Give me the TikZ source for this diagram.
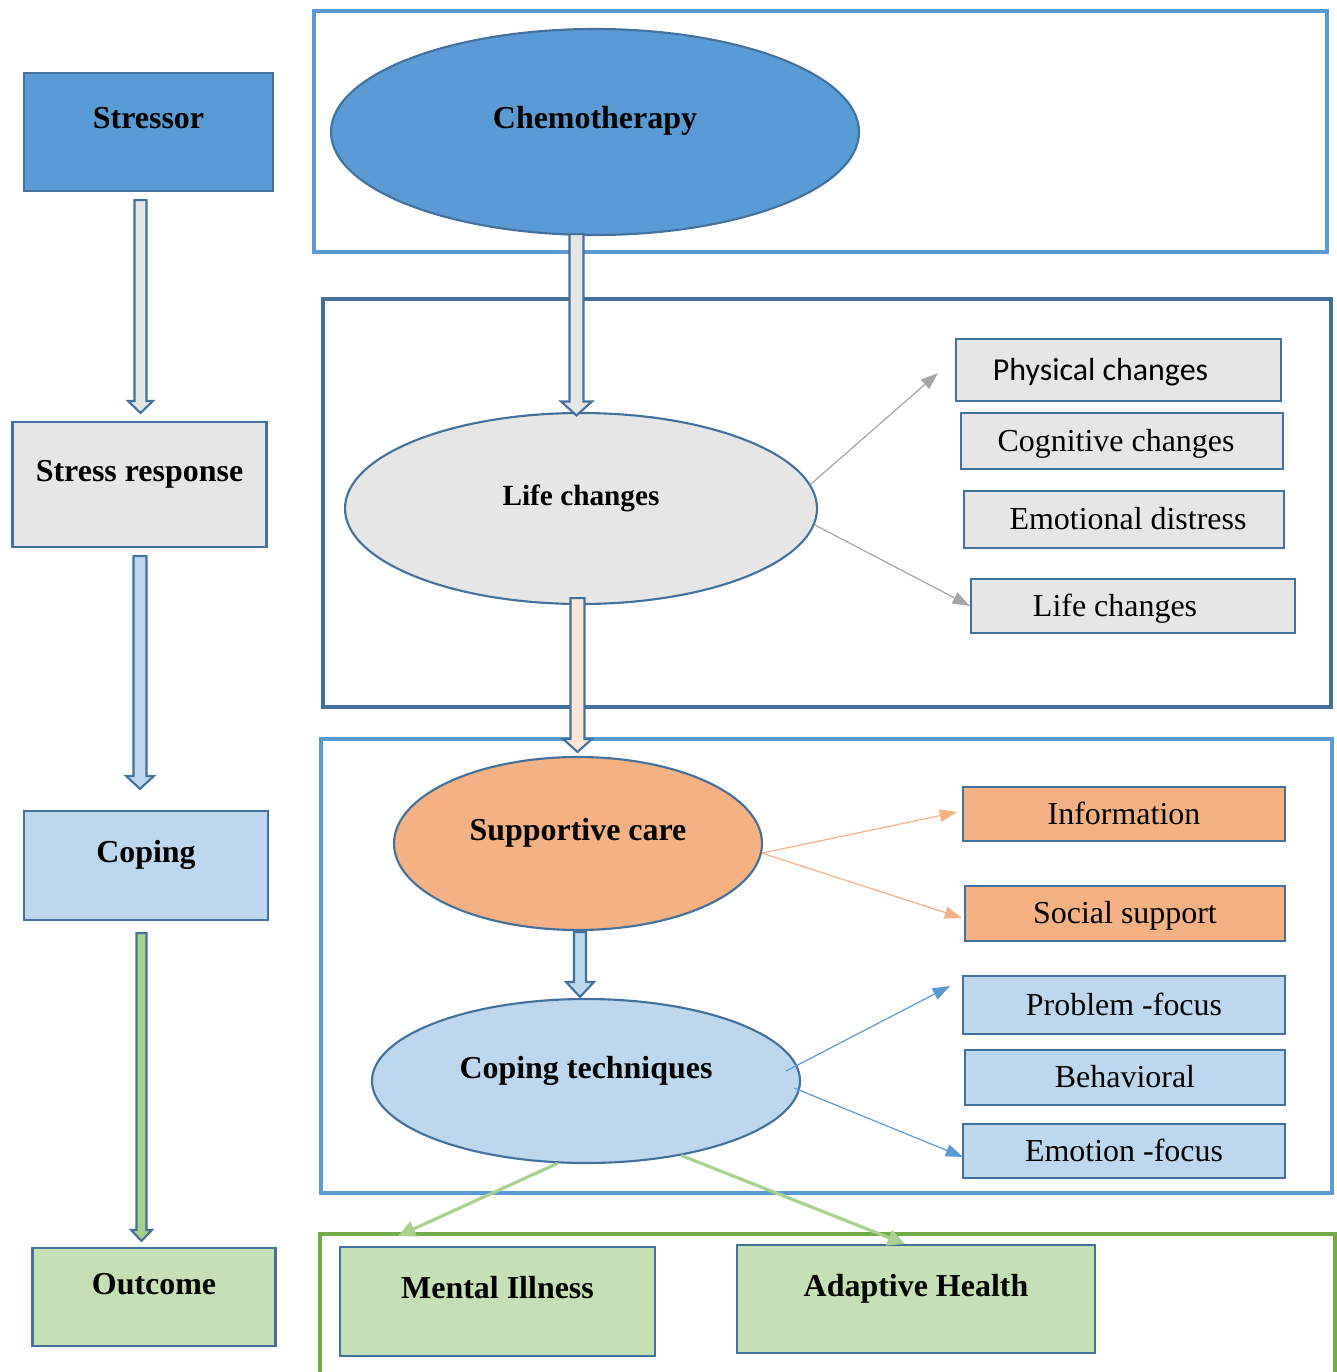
\documentclass[tikz,border=0pt]{standalone}
\usepackage{fontspec}
\setmainfont{Liberation Serif}
\newfontfamily\calibri{Carlito}
\usepackage{xcolor}
\usetikzlibrary{arrows.meta, shapes.geometric, calc}

\definecolor{linkblue}{HTML}{41719C}
\definecolor{midblue}{HTML}{5B9BD5}
\definecolor{paleblue}{HTML}{BDD7EE}
\definecolor{palegray}{HTML}{E7E6E6}
\definecolor{peach}{HTML}{F4B183}
\definecolor{palepeach}{HTML}{FBE5D6}
\definecolor{palegreen}{HTML}{C5E0B4}
\definecolor{leafgreen}{HTML}{A9D18E}
\definecolor{framegreen}{HTML}{70AD47}
\definecolor{arrowgray}{HTML}{A5A5A5}

% one pixel of the layout grid
\def\pxu{0.3756pt}

% fat outlined arrow: fill, from, to, half shaft, half head, head length
\newcommand{\blockarrow}[6]{%
    \draw[fatarrow, fill=#1] let \p1=(#2), \p2=(#3) in
        (\x2-#4*\pxu, \y1) -- (\x2-#4*\pxu, \y2+#6*\pxu) -- (\x2-#5*\pxu, \y2+#6*\pxu)
        -- (\x2, \y2) -- (\x2+#5*\pxu, \y2+#6*\pxu) -- (\x2+#4*\pxu, \y2+#6*\pxu)
        -- (\x2+#4*\pxu, \y1) -- cycle;
}

\tikzset{
    stage/.style={draw=linkblue, line width=0.8pt, inner sep=0pt, font=\bfseries\fontsize{12}{14}\selectfont, text height=22*\pxu, text depth=28*\pxu},
    phase/.style={stage, ellipse},
    item/.style={draw=linkblue, line width=0.8pt, inner sep=0pt, font=\fontsize{12}{14}\selectfont, text height=27*\pxu, text depth=7*\pxu},
    frame/.style={line width=1.5pt},
    fatarrow/.style={draw=linkblue, line width=0.8pt, line join=miter},
    thin/.style={line width=0.45pt, -{Triangle[length=6.5pt, width=4.6pt]}},
    outarrow/.style={leafgreen, line width=1.2pt, -{Triangle[length=6.5pt, width=6pt]}}
}

\begin{document}
\begin{tikzpicture}[x=\pxu, y=-\pxu]
    \useasboundingbox (0, 0) rectangle (1337, 1372);

    % frames round each stage
    \draw[frame, midblue] (314, 11) rectangle (1327, 252);
    \draw[frame, linkblue] (323, 299) rectangle (1331, 707);
    \draw[frame, midblue] (321, 739) rectangle (1332, 1193);
    \draw[frame, framegreen] (320, 1234) rectangle (1335, 1400);

    % left column
    \node (stressor) at (148.5, 132)[stage, fill=midblue, minimum width=249*\pxu, minimum height=118*\pxu] {Stressor};
    \node (response) at (139.5, 484.5)[stage, fill=palegray, minimum width=254*\pxu, minimum height=125*\pxu] {Stress response};
    \node (coping) at (146, 865.5)[stage, fill=paleblue, minimum width=244*\pxu, minimum height=109*\pxu] {Coping};
    \node (outcome) at (154, 1297)[stage, fill=palegreen, minimum width=243*\pxu, minimum height=98*\pxu] {Outcome};

    % middle column
    \node (chemo) at (595, 132)[phase, fill=midblue, minimum width=528*\pxu, minimum height=206*\pxu] {Chemotherapy};
    \node (life) at (581, 508.5)[phase, fill=palegray, minimum width=472*\pxu, minimum height=191*\pxu, font=\bfseries\fontsize{11}{13}\selectfont] {Life changes};
    \node (supp) at (578, 843.5)[phase, fill=peach, minimum width=368*\pxu, minimum height=173*\pxu] {Supportive care};
    \node (coptech) at (586, 1081)[phase, fill=paleblue, minimum width=428*\pxu, minimum height=164*\pxu] {Coping techniques};
    \node (mental) at (497.5, 1301.5)[stage, fill=palegreen, minimum width=315*\pxu, minimum height=109*\pxu] {Mental Illness};
    \node (adaptive) at (916, 1299)[stage, fill=palegreen, minimum width=358*\pxu, minimum height=108*\pxu] {Adaptive Health};

    % right column
    \node (pc) at (1118.5, 370)[item, fill=palegray, minimum width=325*\pxu, minimum height=62*\pxu] {\calibri Physical changes\kern13.5pt};
    \node (cc) at (1122, 441)[item, fill=palegray, minimum width=322*\pxu, minimum height=56*\pxu] {Cognitive changes\kern4.5pt};
    \node (ed) at (1124, 519.5)[item, fill=palegray, minimum width=320*\pxu, minimum height=57*\pxu] {\kern3pt Emotional distress};
    \node (lc) at (1133, 606)[item, fill=palegray, minimum width=324*\pxu, minimum height=54*\pxu] {Life changes\kern13.5pt};
    \node (info) at (1124, 814)[item, fill=peach, minimum width=322*\pxu, minimum height=54*\pxu] {Information};
    \node (social) at (1125, 913.5)[item, fill=peach, minimum width=320*\pxu, minimum height=55*\pxu] {Social support};
    \node (prob) at (1124, 1005)[item, fill=paleblue, minimum width=322*\pxu, minimum height=58*\pxu] {Problem -focus};
    \node (behav) at (1125, 1077.5)[item, fill=paleblue, minimum width=320*\pxu, minimum height=55*\pxu] {Behavioral};
    \node (emo) at (1124, 1151)[item, fill=paleblue, minimum width=322*\pxu, minimum height=54*\pxu] {Emotion -focus};

    % free arrow ends
    \coordinate (pctip) at (938, 373);
    \coordinate (infotip) at (957, 812);
    \coordinate (socialtip) at (962, 918);
    \coordinate (probtip) at (950, 986);
    \coordinate (emotip) at (963, 1157);
    \coordinate (mentaltip) at (398, 1236);
    \coordinate (adapttip) at (905, 1244);

    % fat arrows
    \blockarrow{palegray}{$(stressor.south)+(0,8)$}{$(response.north)+(1,-8)$}{6}{12.5}{12}
    \blockarrow{paleblue}{$(response.south)+(0,8)$}{$(coping.north)+(-6,-21)$}{6.5}{14}{13}
    \blockarrow{leafgreen}{$(coping.south)+(0,12)$}{$(outcome.north)+(-12.5,-6)$}{5}{10.5}{11}
    \blockarrow{palegray}{$(chemo.south)+(0,-2)$}{$(life.north)+(-4.5,3.5)$}{7}{15.5}{14}
    \blockarrow{palepeach}{$(life.south)+(0,-7)$}{$(supp.north)+(-0.5,-4)$}{7}{14.5}{13}
    \blockarrow{paleblue}{$(supp.south)+(0,1)$}{$(coptech.north)+(-6,-1)$}{6}{14}{15}

    % thin arrows
    \draw[thin, arrowgray] (life.6) -- (pctip);
    \draw[thin, arrowgray] (life.-4) -- (lc.west);
    \draw[thin, peach] (supp.-3) -- (infotip);
    \draw[thin, peach] (supp.-3) -- (socialtip);
    \draw[thin, midblue] ($(coptech.east)+(-15,-10)$) -- (probtip);
    \draw[thin, midblue] ($(coptech.east)+(-7,7)$) -- (emotip);

    \draw[outarrow] (coptech.251) -- (mentaltip);
    \draw[outarrow] (coptech.-38) -- (adapttip);
\end{tikzpicture}
\end{document}
